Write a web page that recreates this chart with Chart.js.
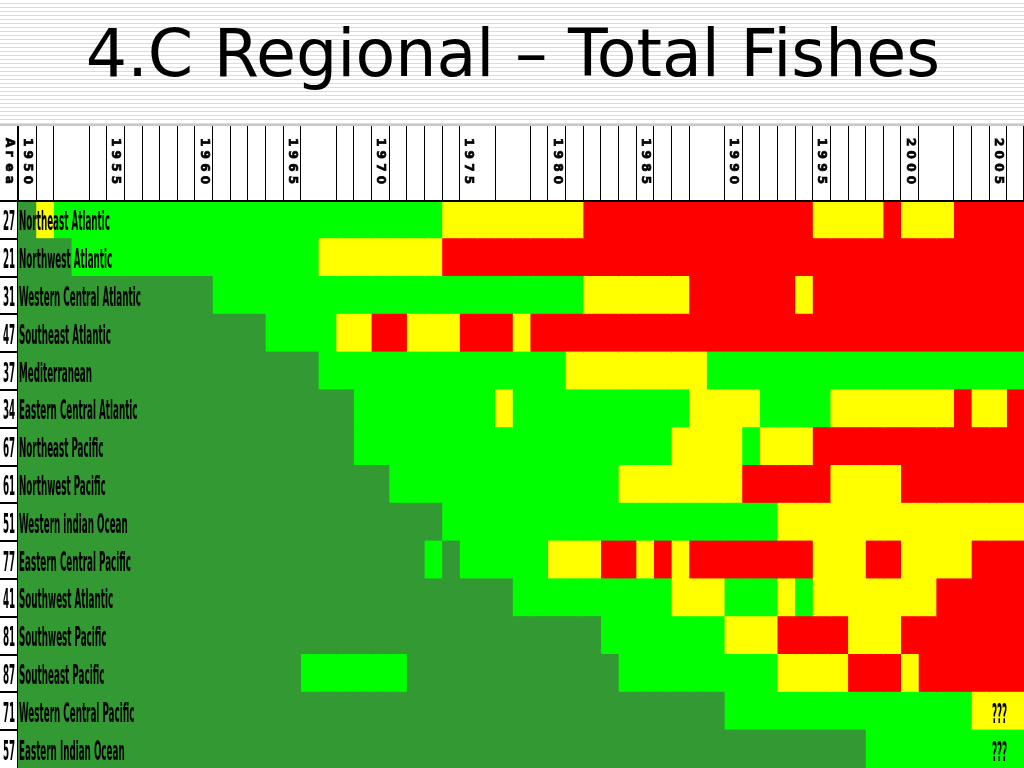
<!DOCTYPE html>
<html><head><meta charset="utf-8">
<script src="https://cdn.jsdelivr.net/npm/chart.js@4.4.1/dist/chart.umd.min.js"></script>
<style>
html,body{margin:0;padding:0;width:1024px;height:768px;overflow:hidden;
background:repeating-linear-gradient(to bottom,#ffffff 0px,#ffffff 3px,#dddddd 3px,#dddddd 4px);}
canvas{position:absolute;left:0;top:0;}
</style></head><body>
<canvas id="c" width="1024" height="768"></canvas>
<script>
// ---------- DATA ----------
const years = [1950,1951,1952,1953,1954,1955,1956,1957,1958,1959,
               1960,1961,1962,1963,1964,1965,1966,1967,1968,1969,
               1970,1971,1972,1973,1974,1975,1976,1977,1978,1979,
               1980,1981,1982,1983,1984,1985,1986,1987,1988,1989,
               1990,1991,1992,1993,1994,1995,1996,1997,1998,1999,
               2000,2001,2002,2003,2004,2005,2006];
const yearTicks = ['1950','1955','1960','1965','1970','1975','1980','1985','1990','1995','2000','2005'];
const areaCodes = ['27','21','31','47','37','34','67','61','51','77','41','81','87','71','57'];
const regions = ['Northeast Atlantic','Northwest Atlantic','Western Central Atlantic','Southeast Atlantic',
  'Mediterranean','Eastern Central Atlantic','Northeast Pacific','Northwest Pacific','Western indian Ocean',
  'Eastern Central Pacific','Southwest Atlantic','Southwest Pacific','Southeast Pacific',
  'Western Central Pacific','Eastern Indian Ocean'];
// stage: 0 = undeveloped, 1 = developing, 2 = mature, 3 = senescent
const stageNames = ['Undeveloped','Developing','Mature','Senescent'];
const area27 = [0,2,1,1,1,1,1,1,1,1, 1,1,1,1,1,1,1,1,1,1, 1,1,1,1,2,2,2,2,2,2, 2,2,3,3,3,3,3,3,3,3, 3,3,3,3,3,2,2,2,2,3, 2,2,2,3,3,3,3];
const area21 = [0,0,0,1,1,1,1,1,1,1, 1,1,1,1,1,1,1,2,2,2, 2,2,2,2,3,3,3,3,3,3, 3,3,3,3,3,3,3,3,3,3, 3,3,3,3,3,3,3,3,3,3, 3,3,3,3,3,3,3];
const area31 = [0,0,0,0,0,0,0,0,0,0, 0,1,1,1,1,1,1,1,1,1, 1,1,1,1,1,1,1,1,1,1, 1,1,2,2,2,2,2,2,3,3, 3,3,3,3,2,3,3,3,3,3, 3,3,3,3,3,3,3];
const area47 = [0,0,0,0,0,0,0,0,0,0, 0,0,0,0,1,1,1,1,2,2, 3,3,2,2,2,3,3,3,2,3, 3,3,3,3,3,3,3,3,3,3, 3,3,3,3,3,3,3,3,3,3, 3,3,3,3,3,3,3];
const area37 = [0,0,0,0,0,0,0,0,0,0, 0,0,0,0,0,0,0,1,1,1, 1,1,1,1,1,1,1,1,1,1, 1,2,2,2,2,2,2,2,2,1, 1,1,1,1,1,1,1,1,1,1, 1,1,1,1,1,1,1];
const area34 = [0,0,0,0,0,0,0,0,0,0, 0,0,0,0,0,0,0,0,0,1, 1,1,1,1,1,1,1,2,1,1, 1,1,1,1,1,1,1,1,2,2, 2,2,1,1,1,1,2,2,2,2, 2,2,2,3,2,2,3];
const area67 = [0,0,0,0,0,0,0,0,0,0, 0,0,0,0,0,0,0,0,0,1, 1,1,1,1,1,1,1,1,1,1, 1,1,1,1,1,1,1,2,2,2, 2,1,2,2,2,3,3,3,3,3, 3,3,3,3,3,3,3];
const area61 = [0,0,0,0,0,0,0,0,0,0, 0,0,0,0,0,0,0,0,0,0, 0,1,1,1,1,1,1,1,1,1, 1,1,1,1,2,2,2,2,2,2, 2,3,3,3,3,3,2,2,2,2, 3,3,3,3,3,3,3];
const area51 = [0,0,0,0,0,0,0,0,0,0, 0,0,0,0,0,0,0,0,0,0, 0,0,0,0,1,1,1,1,1,1, 1,1,1,1,1,1,1,1,1,1, 1,1,1,2,2,2,2,2,2,2, 2,2,2,2,2,2,2];
const area77 = [0,0,0,0,0,0,0,0,0,0, 0,0,0,0,0,0,0,0,0,0, 0,0,0,1,0,1,1,1,1,1, 2,2,2,3,3,2,3,2,3,3, 3,3,3,3,3,2,2,2,3,3, 2,2,2,2,3,3,3];
const area41 = [0,0,0,0,0,0,0,0,0,0, 0,0,0,0,0,0,0,0,0,0, 0,0,0,0,0,0,0,0,1,1, 1,1,1,1,1,1,1,2,2,2, 1,1,1,2,1,2,2,2,2,2, 2,2,3,3,3,3,3];
const area81 = [0,0,0,0,0,0,0,0,0,0, 0,0,0,0,0,0,0,0,0,0, 0,0,0,0,0,0,0,0,0,0, 0,0,0,1,1,1,1,1,1,1, 2,2,2,3,3,3,3,2,2,2, 3,3,3,3,3,3,3];
const area87 = [0,0,0,0,0,0,0,0,0,0, 0,0,0,0,0,0,1,1,1,1, 1,1,0,0,0,0,0,0,0,0, 0,0,0,0,1,1,1,1,1,1, 1,1,1,2,2,2,2,3,3,3, 2,3,3,3,3,3,3];
const area71 = [0,0,0,0,0,0,0,0,0,0, 0,0,0,0,0,0,0,0,0,0, 0,0,0,0,0,0,0,0,0,0, 0,0,0,0,0,0,0,0,0,0, 1,1,1,1,1,1,1,1,1,1, 1,1,1,1,2,2,2];
const area57 = [0,0,0,0,0,0,0,0,0,0, 0,0,0,0,0,0,0,0,0,0, 0,0,0,0,0,0,0,0,0,0, 0,0,0,0,0,0,0,0,0,0, 0,0,0,0,0,0,0,0,1,1, 1,1,1,1,1,1,1];
const stageRows = [area27,area21,area31,area47,area37,area34,area67,area61,area51,area77,area41,area81,area87,area71,area57];
const cellNotes = [{row:13, year:2005, text:'???'}, {row:14, year:2005, text:'???'}];
const headerMerged = [1953,1967,1976,1978,1989,2002]; // header columns with no left rule
const title = '4.C Regional \u2013 Total Fishes';

// ---------- STYLE ----------
const stageColors = ['#339933','#00ff00','#ffff00','#ff0000'];
const HEADER_TOP = 126;
const NAME_FONT = 'bold 26px "Liberation Sans Narrow", "DejaVu Sans Condensed", "Liberation Sans", sans-serif';

const datasets = years.map((yr, j) => ({
  label: String(yr),
  data: stageRows.map(() => [yr - 0.5, yr + 0.5]),
  backgroundColor: stageRows.map(row => stageColors[row[j]]),
  borderWidth: 0,
  inflateAmount: 0.6,
  grouped: false,
  barPercentage: 1,
  categoryPercentage: 1
}));

const framePlugin = {
  id: 'frame',
  beforeDatasetsDraw(chart) {
    const {ctx, chartArea: a} = chart;
    ctx.save();
    ctx.fillStyle = '#ffffff';
    ctx.fillRect(0, HEADER_TOP, chart.width, a.top - HEADER_TOP);
    ctx.fillRect(0, a.top, a.left, a.bottom - a.top);
    ctx.restore();
  },
  afterDatasetsDraw(chart) {
    const {ctx, chartArea: a, scales: {x, y}} = chart;
    ctx.save();
    // header top rule
    ctx.fillStyle = '#c8c8c8';
    ctx.fillRect(0, HEADER_TOP - 2, chart.width, 2);
    // header vertical rules
    ctx.strokeStyle = '#000';
    ctx.lineWidth = 1;
    ctx.beginPath();
    years.forEach(yr => {
      if (headerMerged.includes(yr)) return;
      const px = Math.round(x.getPixelForValue(yr - 0.5)) + 0.5;
      ctx.moveTo(px, HEADER_TOP); ctx.lineTo(px, a.top);
    });
    const lastPx = Math.round(x.getPixelForValue(years[years.length-1] + 0.5)) - 0.5;
    ctx.moveTo(lastPx, HEADER_TOP); ctx.lineTo(lastPx, a.top);
    const lx = Math.round(a.left) - 0.5;
    ctx.moveTo(lx, HEADER_TOP); ctx.lineTo(lx, a.bottom);
    ctx.stroke();
    // header bottom thick rule
    ctx.fillStyle = '#000';
    ctx.fillRect(0, Math.round(a.top) - 1, chart.width, 2);
    // area column row separators
    const band = (a.bottom - a.top) / regions.length;
    for (let i = 1; i < regions.length; i++) {
      const yy = Math.round(a.top + band * i);
      ctx.fillRect(0, yy - 1, a.left, 2);
    }
    // rotated header texts
    ctx.fillStyle = '#000';
    ctx.strokeStyle = '#000';
    ctx.lineWidth = 0.7;
    ctx.font = 'bold 12px "DejaVu Sans", sans-serif';
    ctx.textBaseline = 'middle';
    ctx.textAlign = 'left';
    const drawVertical = (txt, cx, y0, step) => {
      for (let k = 0; k < txt.length; k++) {
        ctx.save();
        ctx.translate(cx, y0 + k * step);
        ctx.rotate(Math.PI / 2);
        ctx.fillText(txt[k], 0, 0);
        ctx.strokeText(txt[k], 0, 0);
        ctx.restore();
      }
    };
    yearTicks.forEach(t => {
      const cx = x.getPixelForValue(Number(t)) + 0.5;
      drawVertical(t, cx, 138, 12.6);
    });
    drawVertical('Area', a.left / 2, 138, 12.6);

    // row labels (condensed)
    ctx.font = NAME_FONT;
    ctx.textBaseline = 'alphabetic';
    const sx = 91 / ctx.measureText(regions[0]).width;
    regions.forEach((name, i) => {
      const cy = y.getPixelForValue(i);
      const base = cy + 10.5;
      ctx.save();
      ctx.translate(a.left + 1, base); ctx.scale(sx, 1);
      ctx.textAlign = 'left';
      ctx.fillText(name, 0, 0);
      ctx.restore();
      ctx.save();
      ctx.translate(a.left / 2, base); ctx.scale(sx, 1);
      ctx.textAlign = 'center';
      ctx.fillText(areaCodes[i], 0, 0);
      ctx.restore();
    });
    cellNotes.forEach(n => {
      const cx = x.getPixelForValue(n.year) + 2;
      const cy = y.getPixelForValue(n.row);
      ctx.save();
      ctx.translate(cx, cy + 12); ctx.scale(sx, 1);
      ctx.textAlign = 'center';
      ctx.fillText(n.text, 0, 0);
      ctx.restore();
    });
    // title
    ctx.font = '65px "DejaVu Sans", sans-serif';
    ctx.textAlign = 'center';
    ctx.textBaseline = 'alphabetic';
    ctx.fillText(title, chart.width / 2 + 1, 76);
    ctx.restore();
  }
};

new Chart(document.getElementById('c'), {
  type: 'bar',
  data: { labels: regions, datasets },
  options: {
    indexAxis: 'y',
    responsive: false,
    animation: false,
    events: [],
    layout: { padding: { left: 18, top: 201, right: 0, bottom: 0 } },
    scales: {
      x: { type: 'linear', min: years[0] - 0.5, max: years[years.length-1] + 0.5, display: false },
      y: { type: 'category', display: false, offset: true }
    },
    plugins: { legend: { display: false }, tooltip: { enabled: false }, title: { display: false } }
  },
  plugins: [framePlugin]
});
</script></body></html>
